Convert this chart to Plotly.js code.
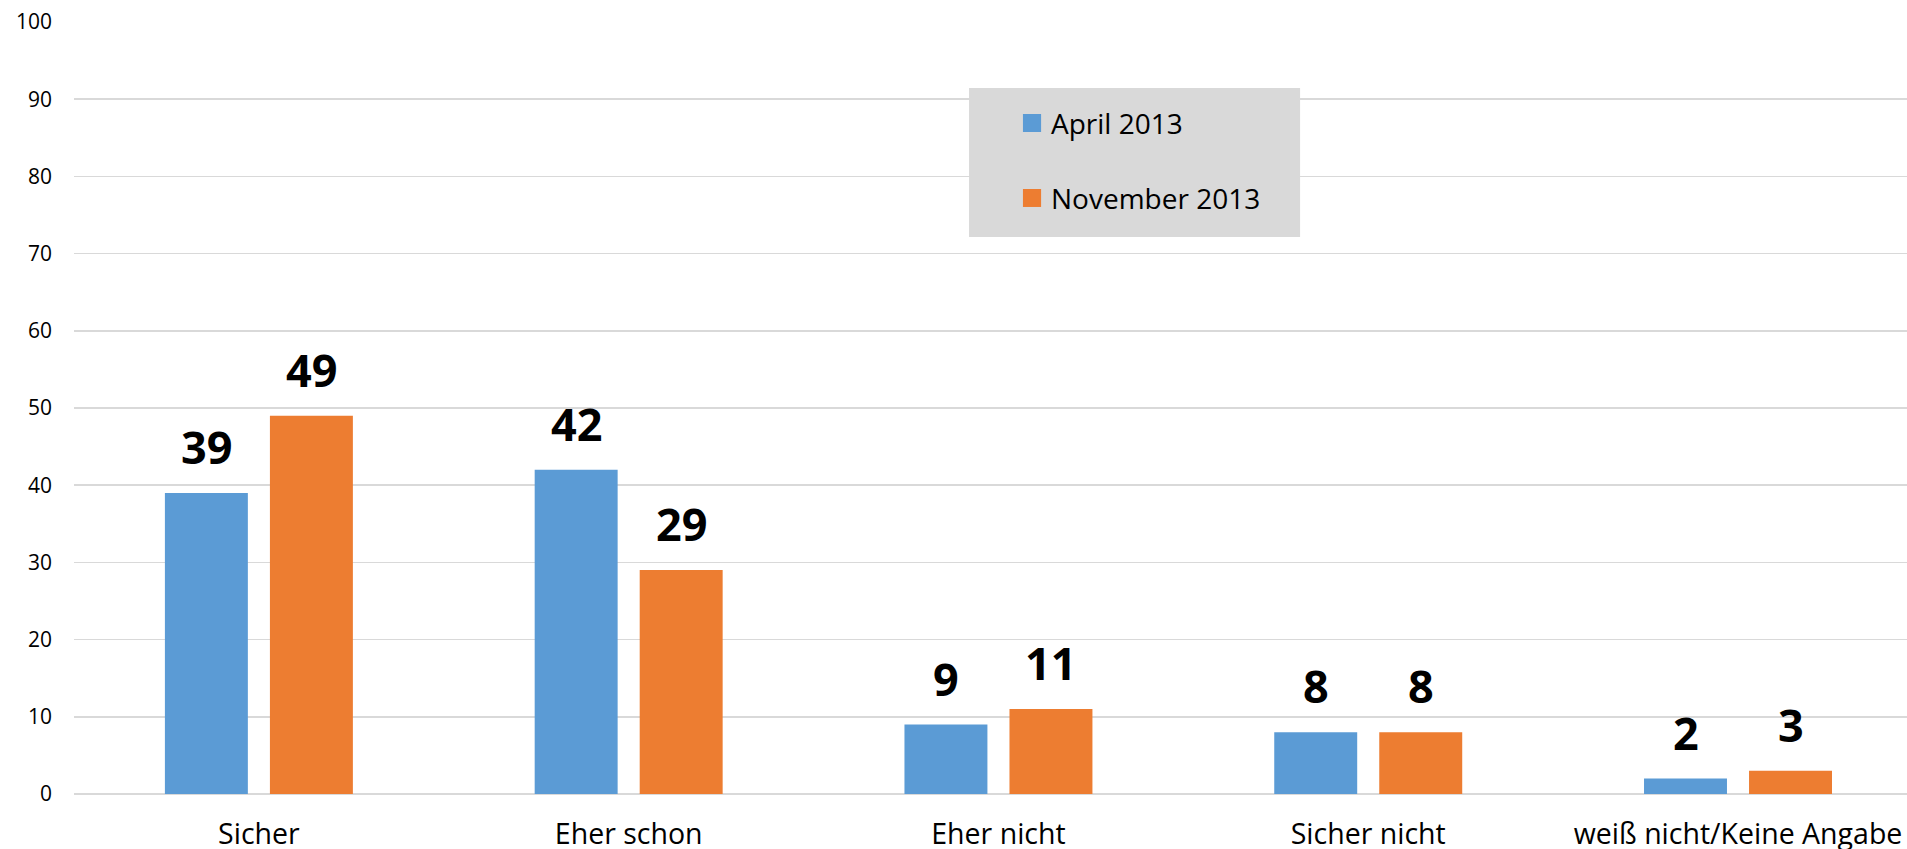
<!DOCTYPE html>
<html>
<head>
<meta charset="utf-8">
<script src="https://cdn.plot.ly/plotly-3.0.1.min.js"></script>
<style>
html,body{margin:0;padding:0;background:#fff;}
#chart{width:1907px;height:849px;}
</style>
</head>
<body>
<div id="chart"></div>
<script>
const categories = ["Sicher", "Eher schon", "Eher nicht", "Sicher nicht", "weiß nicht/Keine Angabe"];
const seriesNames = ["April 2013", "November 2013"];
const april2013 = [39, 42, 9, 8, 2];
const november2013 = [49, 29, 11, 8, 3];
const seriesColors = ["#5B9BD5", "#ED7D31"];
const yTicks = [0, 10, 20, 30, 40, 50, 60, 70, 80, 90, 100];

const FONT = "Open Sans, Liberation Sans, Arial, sans-serif";
const allSeries = [april2013, november2013];

const traces = allSeries.map((vals, i) => ({
  type: "bar",
  name: seriesNames[i],
  x: categories,
  y: vals,
  marker: {color: seriesColors[i]},
  showlegend: false,
  hoverinfo: "x+y+name"
}));

// data labels (above bars), shifted to each bar of the group
const annotations = [];
const slotShift = [-52.5, 52.5];
allSeries.forEach((vals, i) => {
  vals.forEach((v, j) => {
    annotations.push({
      x: categories[j], y: v, xref: "x", yref: "y",
      text: "<b>" + v + "</b>", showarrow: false,
      xanchor: "center", yanchor: "bottom",
      xshift: slotShift[i], yshift: 14,
      font: {family: FONT, size: 45, color: "#000"}
    });
  });
});

// manual legend
const shapes = [{
  type: "rect", xref: "paper", yref: "paper",
  x0: 0.4883, x1: 0.6689, y0: 0.7215, y1: 0.9145,
  fillcolor: "#D9D9D9", line: {width: 0}, layer: "above"
}];
const legendRows = [{y0: 0.8575, y1: 0.8808, ty: 0.8692}, {y0: 0.7604, y1: 0.7837, ty: 0.7720}];
seriesNames.forEach((nm, i) => {
  shapes.push({
    type: "rect", xref: "paper", yref: "paper",
    x0: 0.5177, x1: 0.5276, y0: legendRows[i].y0, y1: legendRows[i].y1,
    fillcolor: seriesColors[i], line: {width: 0}, layer: "above"
  });
  annotations.push({
    x: 0.5319, y: legendRows[i].ty, xref: "paper", yref: "paper",
    text: nm, showarrow: false, xanchor: "left", yanchor: "middle",
    font: {family: FONT, size: 28, color: "#000"}
  });
});

const layout = {
  width: 1907, height: 849,
  margin: {l: 74, r: 0, t: 22, b: 55, pad: 0},
  paper_bgcolor: "#fff", plot_bgcolor: "#fff",
  barmode: "group", bargap: 0.432, bargroupgap: 0.21,
  showlegend: false,
  xaxis: {
    type: "category",
    range: [-0.5, 4.457],
    showgrid: false, zeroline: false, showline: false,
    ticks: "", ticklabelstandoff: 20,
    tickfont: {family: FONT, size: 28.5, color: "#000"},
    fixedrange: true
  },
  yaxis: {
    range: [0, 100],
    tickvals: yTicks,
    ticktext: yTicks.map(String),
    showgrid: true, gridcolor: "#D9D9D9", gridwidth: 1.5,
    zeroline: true, zerolinecolor: "#D9D9D9", zerolinewidth: 1.5,
    showline: false, ticks: "", ticklabelstandoff: 21,
    tickfont: {family: FONT, size: 21, color: "#000"},
    fixedrange: true
  },
  annotations: annotations,
  shapes: shapes
};

Plotly.newPlot("chart", traces, layout, {displayModeBar: false, staticPlot: true});
</script>
</body>
</html>
